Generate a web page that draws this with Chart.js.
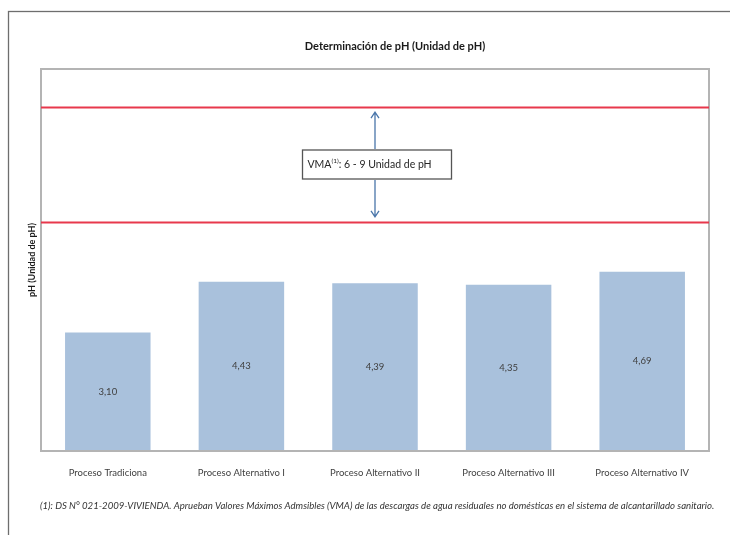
<!DOCTYPE html>
<html>
<head>
<meta charset="utf-8">
<script src="https://cdn.jsdelivr.net/npm/chart.js@4"></script>
<style>
  body { margin: 0; background: #fff; }
  #wrap { width: 730px; height: 535px; }
</style>
</head>
<body>
<div id="wrap"><canvas id="phChart" width="730" height="535"></canvas></div>
<script>
// datos
const categories = ['Proceso Tradiciona', 'Proceso Alternativo I', 'Proceso Alternativo II', 'Proceso Alternativo III', 'Proceso Alternativo IV'];
const phValues = [3.10, 4.43, 4.39, 4.35, 4.69];
const vmaLimits = [6, 9];
const yRange = [0, 10];

const titleText = 'Determinación de pH (Unidad de pH)';
const yTitle = 'pH (Unidad de pH)';
const vmaText = ': ' + vmaLimits[0] + ' - ' + vmaLimits[1] + ' Unidad de pH';
const footnote = '(1): DS N° 021-2009-VIVIENDA. Aprueban Valores Máximos Admsibles (VMA) de las descargas de agua residuales no domésticas en el sistema de alcantarillado sanitario.';

const FONT = 'Lato, "Open Sans", sans-serif';

function fmt(v) {
    return v.toFixed(2).replace('.', ',');
}

function arrow(ctx, x, y1, y2) {
    //line from y1 to y2 with head at y2
    let dir = y2 > y1 ? 1 : -1;
    ctx.beginPath();
    ctx.moveTo(x, y1);
    ctx.lineTo(x, y2);
    ctx.moveTo(x - 4, y2 - dir * 6);
    ctx.lineTo(x, y2);
    ctx.lineTo(x + 4, y2 - dir * 6);
    ctx.stroke();
}

const decorPlugin = {
    id: 'decor',
    beforeDraw(chart) {
        const ctx = chart.ctx;
        ctx.save();
        ctx.fillStyle = '#fff';
        ctx.fillRect(0, 0, chart.width, chart.height);
        //outer frame
        ctx.strokeStyle = '#6e6e6e';
        ctx.lineWidth = 1.3;
        ctx.strokeRect(8.5, 11.5, chart.width + 20, chart.height + 20);
        ctx.restore();
    },
    afterDatasetsDraw(chart) {
        const ctx = chart.ctx;
        const a = chart.chartArea;
        const y = chart.scales.y;
        ctx.save();

        //bar value labels
        const meta = chart.getDatasetMeta(0);
        ctx.font = '9.5px ' + FONT;
        ctx.fillStyle = '#404040';
        ctx.textAlign = 'center';
        ctx.textBaseline = 'middle';
        meta.data.forEach((bar, i) => {
            ctx.fillText(fmt(phValues[i]), bar.x, (bar.y + bar.base) / 2);
        });

        //plot frame
        ctx.strokeStyle = '#b4b4b4';
        ctx.lineWidth = 2;
        ctx.strokeRect(a.left, a.top, a.right - a.left, a.bottom - a.top);

        //VMA limit lines
        ctx.strokeStyle = '#e8384c';
        ctx.lineWidth = 2;
        vmaLimits.forEach(v => {
            let py = Math.round(y.getPixelForValue(v)) + 0.5;
            ctx.beginPath();
            ctx.moveTo(a.left, py);
            ctx.lineTo(a.right, py);
            ctx.stroke();
        });

        //annotation box
        const yLow = y.getPixelForValue(vmaLimits[0]);
        const yHigh = y.getPixelForValue(vmaLimits[1]);
        const cy = (yLow + yHigh) / 2;
        const cx = (a.left + a.right) / 2 + 2;
        const bw = 149, bh = 29;
        const bx = cx - bw / 2, by = cy - bh / 2;
        ctx.fillStyle = '#fff';
        ctx.fillRect(bx, by, bw, bh);
        ctx.strokeStyle = '#555';
        ctx.lineWidth = 1.3;
        ctx.strokeRect(bx, by, bw, bh);

        ctx.fillStyle = '#262626';
        ctx.textAlign = 'left';
        ctx.textBaseline = 'middle';
        ctx.font = '10.5px ' + FONT;
        let tx = bx + 5;
        ctx.fillText('VMA', tx, cy);
        tx += ctx.measureText('VMA').width;
        ctx.font = '6.5px ' + FONT;
        ctx.fillText('(1)', tx, cy - 4);
        tx += ctx.measureText('(1)').width;
        ctx.font = '10.5px ' + FONT;
        ctx.fillText(vmaText, tx, cy);

        //arrows
        const ax = cx - 2;
        ctx.strokeStyle = '#4a76aa';
        ctx.lineWidth = 1.3;
        arrow(ctx, ax, by - 1, yHigh + 5);
        arrow(ctx, ax, by + bh + 1, yLow - 5);

        //title
        ctx.fillStyle = '#1a1a1a';
        ctx.textAlign = 'center';
        ctx.font = 'bold 11px ' + FONT;
        ctx.fillText(titleText, 395, 46);

        //footnote
        ctx.fillStyle = '#333';
        ctx.font = 'italic 8px ' + FONT;
        ctx.textAlign = 'left';
        let fw = ctx.measureText(footnote).width;
        let size = 8 * 675 / fw;
        ctx.font = 'italic ' + size.toFixed(2) + 'px ' + FONT;
        ctx.fillText(footnote, 40, 506);

        ctx.restore();
    }
};

new Chart(document.getElementById('phChart'), {
    type: 'bar',
    data: {
        labels: categories,
        datasets: [{
            label: 'pH',
            data: phValues,
            backgroundColor: '#a9c1dc',
            borderWidth: 0,
            categoryPercentage: 1,
            barPercentage: 0.64
        }]
    },
    options: {
        responsive: false,
        animation: false,
        layout: {
            padding: {top: 69, right: 21, bottom: 54, left: 22}
        },
        plugins: {
            legend: {display: false},
            tooltip: {enabled: false},
            title: {display: false}
        },
        scales: {
            x: {
                grid: {display: false},
                border: {display: false},
                ticks: {
                    color: '#404040',
                    font: {family: FONT, size: 9.5},
                    padding: 8,
                    maxRotation: 0,
                    autoSkip: false
                },
                afterFit: (s) => { s.height = 30; }
            },
            y: {
                min: yRange[0],
                max: yRange[1],
                grid: {display: false},
                border: {display: false},
                ticks: {display: false},
                title: {
                    display: true,
                    text: yTitle,
                    color: '#1a1a1a',
                    font: {family: FONT, size: 9, weight: 'bold'},
                    padding: {top: 5, bottom: 0}
                },
                afterFit: (s) => { s.width = 19; }
            }
        }
    },
    plugins: [decorPlugin]
});
</script>
</body>
</html>
